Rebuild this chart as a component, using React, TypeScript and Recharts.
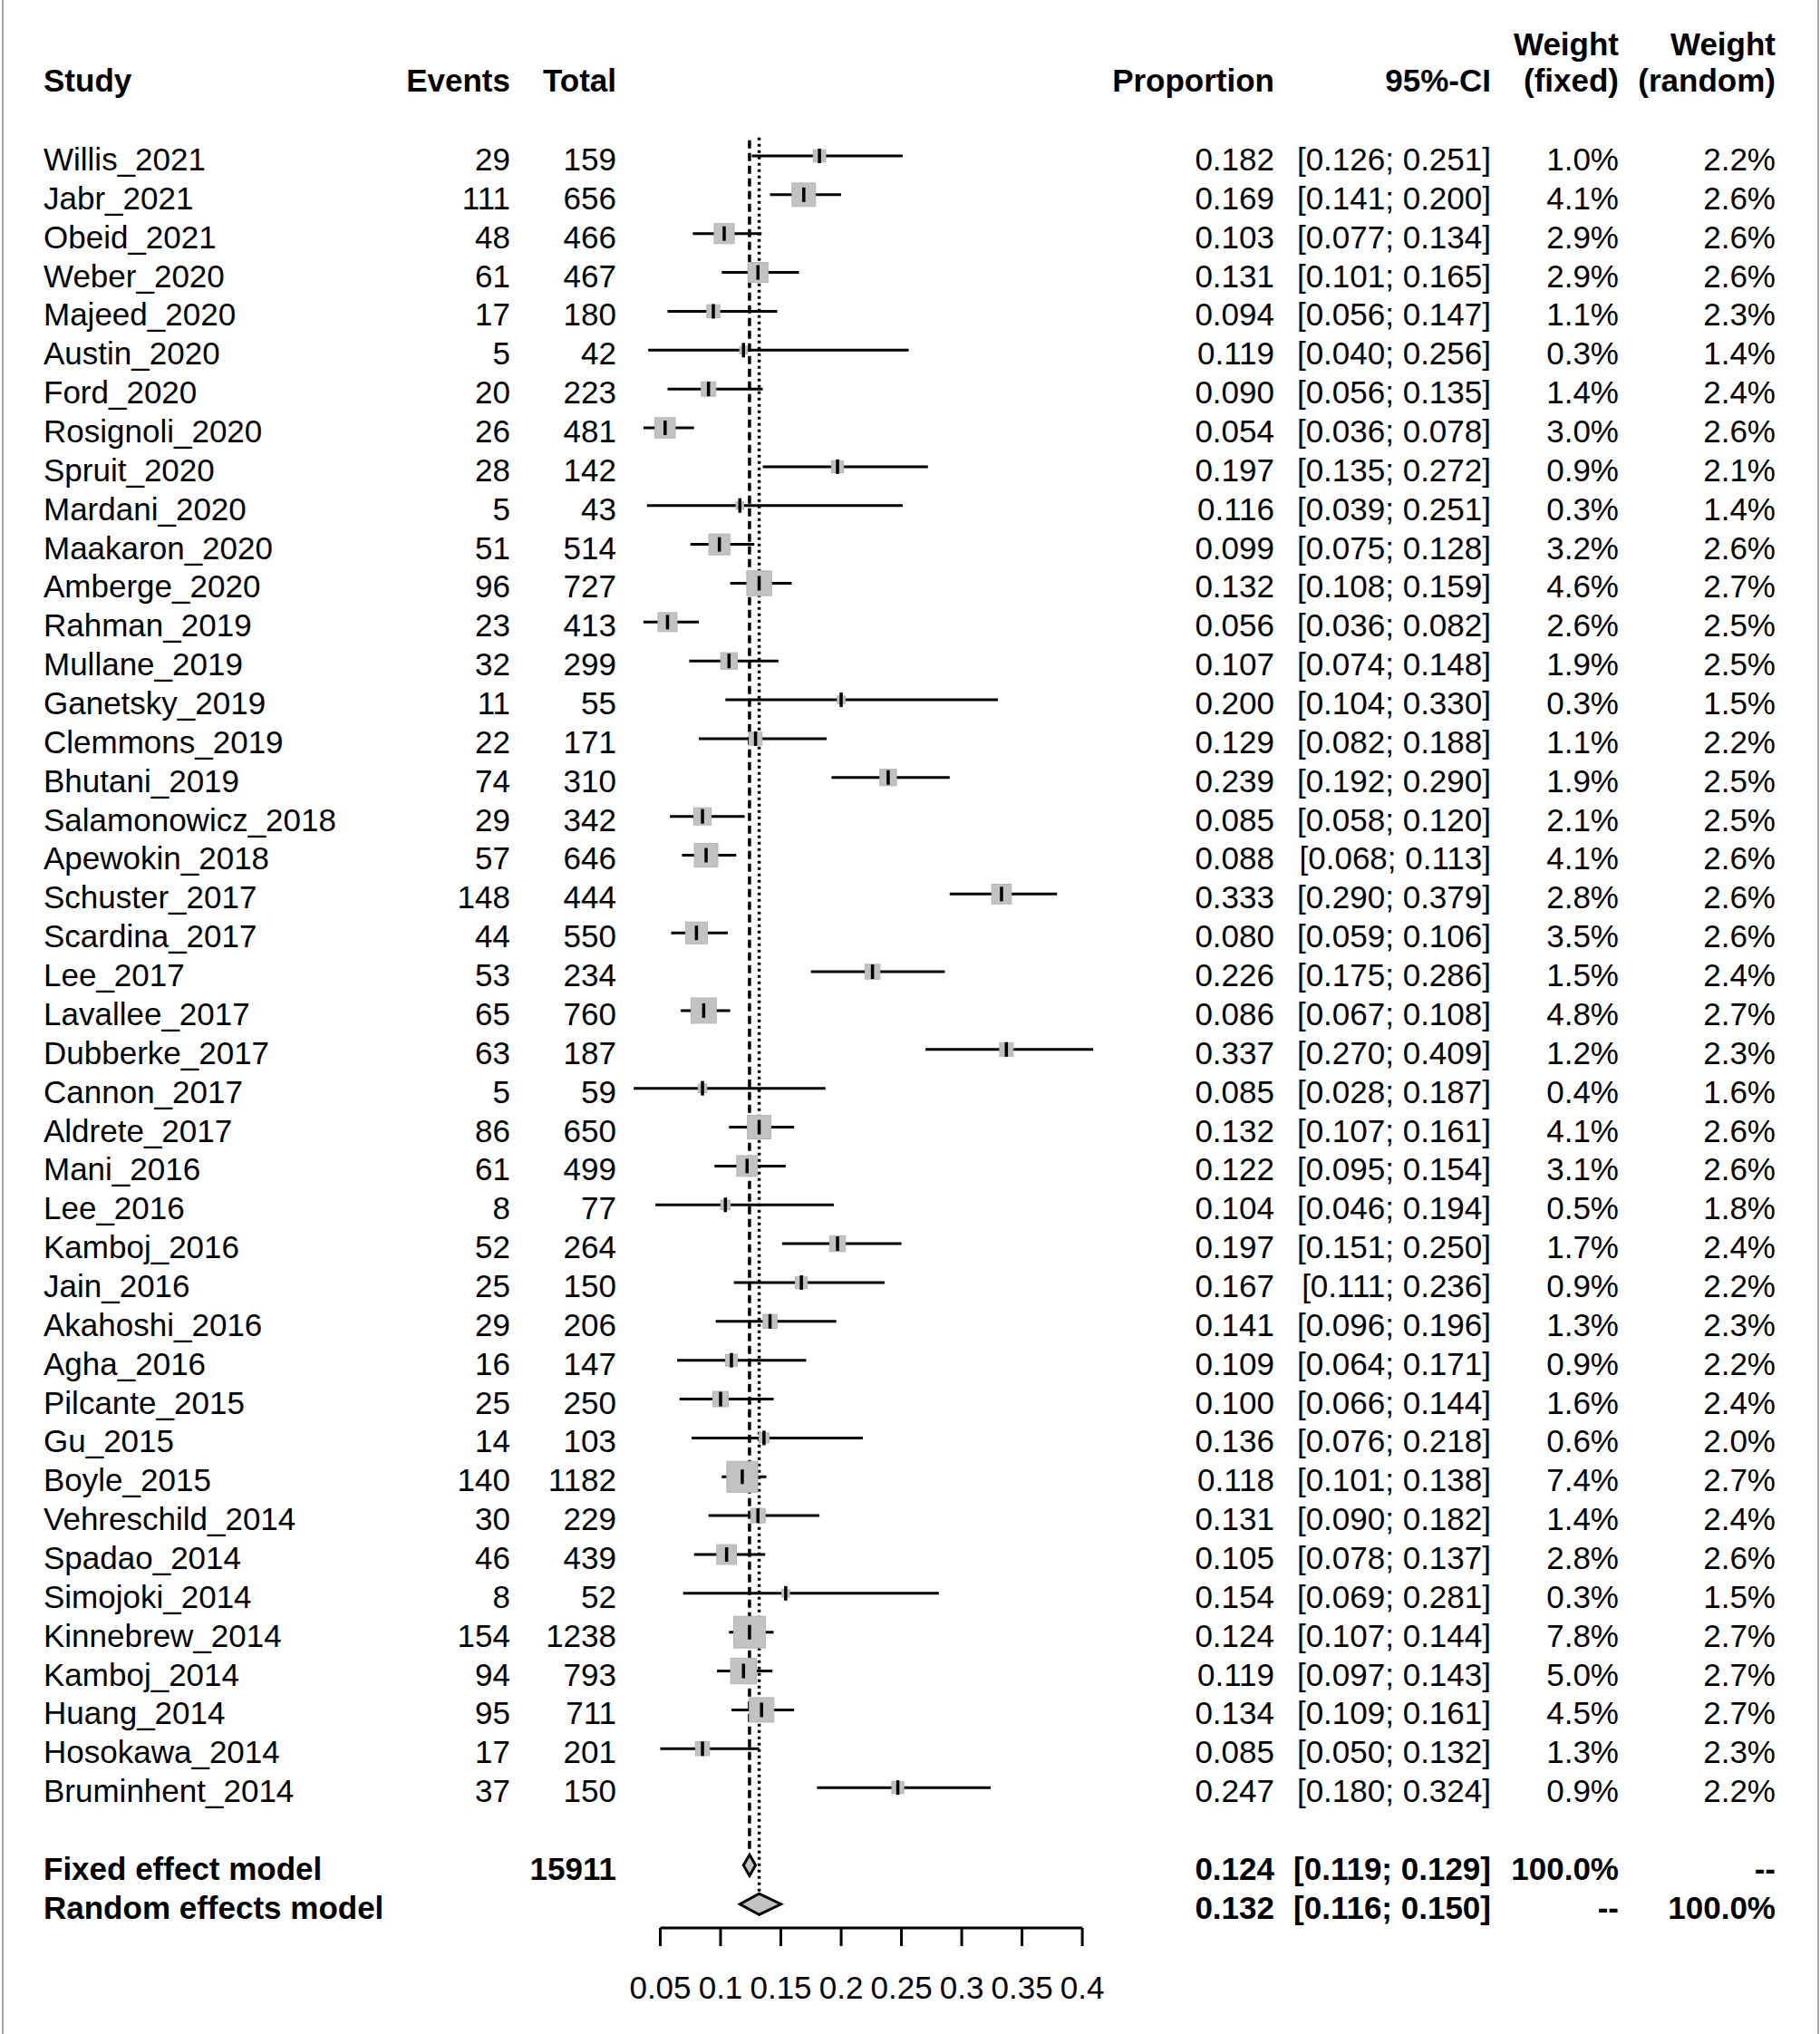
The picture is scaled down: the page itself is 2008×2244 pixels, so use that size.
import React from 'react'
import { ScatterChart, Scatter, XAxis, YAxis, ErrorBar, ReferenceLine } from 'recharts'

// Study level data
const studies = [
  'Willis_2021', 'Jabr_2021', 'Obeid_2021', 'Weber_2020', 'Majeed_2020', 'Austin_2020', 'Ford_2020',
  'Rosignoli_2020', 'Spruit_2020', 'Mardani_2020', 'Maakaron_2020', 'Amberge_2020', 'Rahman_2019',
  'Mullane_2019', 'Ganetsky_2019', 'Clemmons_2019', 'Bhutani_2019', 'Salamonowicz_2018', 'Apewokin_2018',
  'Schuster_2017', 'Scardina_2017', 'Lee_2017', 'Lavallee_2017', 'Dubberke_2017', 'Cannon_2017',
  'Aldrete_2017', 'Mani_2016', 'Lee_2016', 'Kamboj_2016', 'Jain_2016', 'Akahoshi_2016', 'Agha_2016',
  'Pilcante_2015', 'Gu_2015', 'Boyle_2015', 'Vehreschild_2014', 'Spadao_2014', 'Simojoki_2014',
  'Kinnebrew_2014', 'Kamboj_2014', 'Huang_2014', 'Hosokawa_2014', 'Bruminhent_2014'
]
const events = [
  29, 111, 48, 61, 17, 5, 20, 26, 28, 5, 51, 96, 23, 32, 11, 22, 74, 29, 57, 148, 44, 53, 65, 63, 5,
  86, 61, 8, 52, 25, 29, 16, 25, 14, 140, 30, 46, 8, 154, 94, 95, 17, 37
]
const totals = [
  159, 656, 466, 467, 180, 42, 223, 481, 142, 43, 514, 727, 413, 299, 55, 171, 310, 342, 646, 444, 550,
  234, 760, 187, 59, 650, 499, 77, 264, 150, 206, 147, 250, 103, 1182, 229, 439, 52, 1238, 793, 711, 201, 150
]
const proportion = [
  0.182, 0.169, 0.103, 0.131, 0.094, 0.119, 0.090, 0.054, 0.197, 0.116, 0.099, 0.132, 0.056, 0.107,
  0.200, 0.129, 0.239, 0.085, 0.088, 0.333, 0.080, 0.226, 0.086, 0.337, 0.085, 0.132, 0.122, 0.104,
  0.197, 0.167, 0.141, 0.109, 0.100, 0.136, 0.118, 0.131, 0.105, 0.154, 0.124, 0.119, 0.134, 0.085, 0.247
]
const ciLower = [
  0.126, 0.141, 0.077, 0.101, 0.056, 0.040, 0.056, 0.036, 0.135, 0.039, 0.075, 0.108, 0.036, 0.074,
  0.104, 0.082, 0.192, 0.058, 0.068, 0.290, 0.059, 0.175, 0.067, 0.270, 0.028, 0.107, 0.095, 0.046,
  0.151, 0.111, 0.096, 0.064, 0.066, 0.076, 0.101, 0.090, 0.078, 0.069, 0.107, 0.097, 0.109, 0.050, 0.180
]
const ciUpper = [
  0.251, 0.200, 0.134, 0.165, 0.147, 0.256, 0.135, 0.078, 0.272, 0.251, 0.128, 0.159, 0.082, 0.148,
  0.330, 0.188, 0.290, 0.120, 0.113, 0.379, 0.106, 0.286, 0.108, 0.409, 0.187, 0.161, 0.154, 0.194,
  0.250, 0.236, 0.196, 0.171, 0.144, 0.218, 0.138, 0.182, 0.137, 0.281, 0.144, 0.143, 0.161, 0.132, 0.324
]
const weightFixed = [
  1.0, 4.1, 2.9, 2.9, 1.1, 0.3, 1.4, 3.0, 0.9, 0.3, 3.2, 4.6, 2.6, 1.9, 0.3, 1.1, 1.9, 2.1, 4.1, 2.8,
  3.5, 1.5, 4.8, 1.2, 0.4, 4.1, 3.1, 0.5, 1.7, 0.9, 1.3, 0.9, 1.6, 0.6, 7.4, 1.4, 2.8, 0.3, 7.8, 5.0, 4.5, 1.3, 0.9
]
const weightRandom = [
  2.2, 2.6, 2.6, 2.6, 2.3, 1.4, 2.4, 2.6, 2.1, 1.4, 2.6, 2.7, 2.5, 2.5, 1.5, 2.2, 2.5, 2.5, 2.6, 2.6,
  2.6, 2.4, 2.7, 2.3, 1.6, 2.6, 2.6, 1.8, 2.4, 2.2, 2.3, 2.2, 2.4, 2.0, 2.7, 2.4, 2.6, 1.5, 2.7, 2.7, 2.7, 2.3, 2.2
]

// Pooled estimates
const summaryLabels = ['Fixed effect model', 'Random effects model']
const summaryTotals = ['15911', '']
const summaryEstimate = [0.124, 0.132]
const summaryLower = [0.119, 0.116]
const summaryUpper = [0.129, 0.150]
const summaryWeightFixed = ['100.0%', '--']
const summaryWeightRandom = ['--', '100.0%']

const xTicks = [0.05, 0.1, 0.15, 0.2, 0.25, 0.3, 0.35, 0.4]

// layout
const WIDTH = 2008
const HEIGHT = 2244
const X_DOMAIN: [number, number] = [-0.4976, 1.0118]
const Y_DOMAIN: [number, number] = [-4.013, 45.613]
const FONT = '"Liberation Sans", Arial, Helvetica, sans-serif'
const COLS = { study: 48, events: 563, total: 680, prop: 1406, ci: 1645, wFixed: 1786, wRandom: 1959 }
const BASE = 16
const DIAMOND_H = 0.27

const fmtCI = (lo: number, hi: number) => `[${lo.toFixed(3)}; ${hi.toFixed(3)}]`

const studyRows = studies.map((name, i) => ({
  x: proportion[i],
  y: i,
  err: [proportion[i] - ciLower[i], ciUpper[i] - proportion[i]],
  name,
  events: events[i],
  total: totals[i],
  prop: proportion[i].toFixed(3),
  ci: fmtCI(ciLower[i], ciUpper[i]),
  wf: weightFixed[i],
  wFixed: `${weightFixed[i].toFixed(1)}%`,
  wRandom: `${weightRandom[i].toFixed(1)}%`
}))

const summaryRows = summaryLabels.map((name, k) => ({
  x: summaryEstimate[k],
  y: studies.length + 1 + k,
  name,
  total: summaryTotals[k],
  prop: summaryEstimate[k].toFixed(3),
  ci: fmtCI(summaryLower[k], summaryUpper[k]),
  wFixed: summaryWeightFixed[k],
  wRandom: summaryWeightRandom[k]
}))

const diamonds = summaryRows.map((row, k) => [
  { x: summaryLower[k], y: row.y },
  { x: summaryEstimate[k], y: row.y - DIAMOND_H },
  { x: summaryUpper[k], y: row.y },
  { x: summaryEstimate[k], y: row.y + DIAMOND_H }
])

const headerRow = [{ x: 0.2, y: -2 }]

const EmptyShape = () => <g />

const SquareShape = (props: any) => {
  const { cx, cy, payload } = props
  const s = 11.8 * Math.sqrt(payload.wf) + 2
  return <rect x={cx - s / 2} y={cy - s / 2} width={s} height={s} fill="#c2c2c2" stroke="#b4b4b4" strokeWidth={1} />
}

const TickShape = (props: any) => {
  const { cx, cy } = props
  return <line x1={cx} x2={cx} y1={cy - 8} y2={cy + 8} stroke="#000" strokeWidth={3.5} />
}

const RowText = (props: any) => {
  const { cy, payload } = props
  const bold = payload.y > studies.length
  const y = cy + BASE
  return (
    <g fontFamily={FONT} fontSize={35} fill="#000" fontWeight={bold ? 'bold' : 'normal'}>
      <text x={COLS.study} y={y}>{payload.name}</text>
      {payload.events !== undefined && (
        <text x={COLS.events} y={y} textAnchor="end">{payload.events}</text>
      )}
      <text x={COLS.total} y={y} textAnchor="end">{payload.total}</text>
      <text x={COLS.prop} y={y} textAnchor="end">{payload.prop}</text>
      <text x={COLS.ci} y={y} textAnchor="end">{payload.ci}</text>
      <text x={COLS.wFixed} y={y} textAnchor="end">{payload.wFixed}</text>
      <text x={COLS.wRandom} y={y} textAnchor="end">{payload.wRandom}</text>
    </g>
  )
}

const HeaderText = (props: any) => {
  const { cy } = props
  const y = cy + 15
  return (
    <g fontFamily={FONT} fontSize={35} fill="#000" fontWeight="bold">
      <text x={COLS.study} y={y}>Study</text>
      <text x={COLS.events} y={y} textAnchor="end">Events</text>
      <text x={COLS.total} y={y} textAnchor="end">Total</text>
      <text x={COLS.prop} y={y} textAnchor="end">Proportion</text>
      <text x={COLS.ci} y={y} textAnchor="end">95%-CI</text>
      <text x={COLS.wFixed} y={y - 40} textAnchor="end">Weight</text>
      <text x={COLS.wFixed} y={y} textAnchor="end">(fixed)</text>
      <text x={COLS.wRandom} y={y - 40} textAnchor="end">Weight</text>
      <text x={COLS.wRandom} y={y} textAnchor="end">(random)</text>
    </g>
  )
}

export default function App() {
  const nStudies = studies.length
  return (
    <div style={{ position: 'relative', width: WIDTH, height: HEIGHT, background: '#fff' }}>
      <style>{'body{margin:0;background:#fff}'}</style>
      <div style={{ position: 'absolute', left: 2, top: 0, width: 2, height: HEIGHT, background: '#a6a6a6' }} />
      <div style={{ position: 'absolute', left: 2005, top: 0, width: 2, height: HEIGHT, background: '#a6a6a6' }} />
      <ScatterChart width={WIDTH} height={HEIGHT} margin={{ top: 0, right: 0, bottom: 0, left: 0 }}>
        <XAxis
          type="number"
          dataKey="x"
          domain={X_DOMAIN}
          ticks={xTicks}
          interval={0}
          height={117}
          axisLine={false}
          tickSize={20}
          tickMargin={33}
          stroke="#000"
          tickLine={{ stroke: '#000', strokeWidth: 3 }}
          tick={{ fill: '#000', fontSize: 35, fontFamily: FONT }}
        />
        <YAxis type="number" dataKey="y" domain={Y_DOMAIN} reversed hide />

        {/* axis line only spans the tick range */}
        <ReferenceLine
          segment={[{ x: 0.05, y: Y_DOMAIN[1] }, { x: 0.4, y: Y_DOMAIN[1] }]}
          stroke="#000"
          strokeWidth={3}
          ifOverflow="visible"
        />
        {/* pooled estimate lines */}
        <ReferenceLine
          segment={[{ x: summaryEstimate[0], y: -0.4 }, { x: summaryEstimate[0], y: nStudies + 1 - 0.34 }]}
          stroke="#000"
          strokeWidth={3.5}
          strokeDasharray="9 5"
          ifOverflow="visible"
        />
        <ReferenceLine
          segment={[{ x: summaryEstimate[1], y: -0.47 }, { x: summaryEstimate[1], y: nStudies + 2 - 0.3 }]}
          stroke="#000"
          strokeWidth={3.5}
          strokeDasharray="3 4"
          ifOverflow="visible"
        />

        <Scatter data={headerRow} shape={HeaderText} isAnimationActive={false} />
        <Scatter data={studyRows} shape={RowText} isAnimationActive={false} />
        <Scatter data={summaryRows} shape={RowText} isAnimationActive={false} />

        <Scatter data={studyRows} shape={SquareShape} isAnimationActive={false} />
        <Scatter data={studyRows} shape={TickShape} isAnimationActive={false}>
          <ErrorBar dataKey="err" direction="x" width={0} stroke="#000" strokeWidth={3} isAnimationActive={false} />
        </Scatter>

        {diamonds.map((d, k) => (
          <Scatter
            key={`diamond-${k}`}
            data={d}
            shape={EmptyShape}
            line={{ stroke: '#000', strokeWidth: 3, fill: '#c2c2c2' }}
            lineJointType="linearClosed"
            isAnimationActive={false}
          />
        ))}
      </ScatterChart>
    </div>
  )
}
